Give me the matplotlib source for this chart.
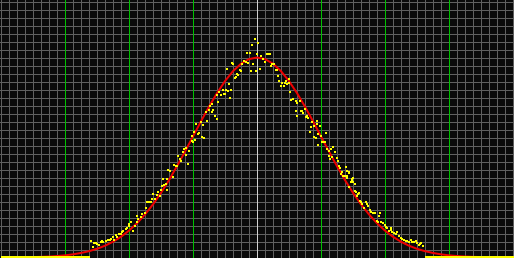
import matplotlib
matplotlib.use('Agg')
import matplotlib.pyplot as plt

# Hardcodes: values (x = bin, y = count)
red_x = [32, 40, 48, 56, 64, 72, 80, 88, 96, 104, 112, 120, 128, 136, 144, 152, 160, 168, 176, 184, 192, 200, 208, 216, 224, 232, 240, 248,
         256, 264, 272, 280, 288, 296, 304, 312, 320, 328, 336, 344, 352, 360, 368, 376, 384, 392, 400, 408, 416, 424, 432, 440, 448, 456, 464, 472, 480]
red_y = [0.4, 0.7, 1.0, 1.5, 2.2, 3.2, 4.6, 6.4, 8.8, 11.9, 15.9, 20.9, 27.1, 34.5, 43.3, 53.4, 64.9, 77.7, 91.6, 106.2, 121.3, 136.4, 151.0, 164.5, 176.5, 186.4, 193.8, 198.4,
         200.0, 198.4, 193.8, 186.4, 176.5, 164.5, 151.0, 136.4, 121.3, 106.2, 91.6, 77.7, 64.9, 53.4, 43.3, 34.5, 27.1, 20.9, 15.9, 11.9, 8.8, 6.4, 4.6, 3.2, 2.2, 1.5, 1.0, 0.7, 0.4]

yellow_x = [90, 92, 93, 95, 96, 98, 100, 101, 102, 105, 107, 109, 110, 112, 113, 115, 116, 118, 120, 121, 122, 125, 126, 128, 128, 130,
            132, 134, 136, 136, 137, 140, 141, 144, 145, 146, 148, 150, 151, 152, 154, 156, 157, 159, 160, 161, 162, 163, 165, 166, 166, 167,
            169, 172, 173, 175, 176, 177, 179, 180, 182, 183, 185, 185, 187, 188, 191, 191, 192, 193, 194, 195, 197, 198, 200, 201, 202, 203,
            205, 206, 208, 209, 211, 211, 212, 214, 216, 216, 217, 218, 220, 222, 223, 224, 225, 227, 229, 230, 226, 228, 231, 232, 234, 235,
            236, 237, 239, 240, 241, 243, 245, 246, 247, 249, 250, 251, 252, 254, 255, 256, 257, 259, 260, 262, 264, 266, 267, 269, 270, 271,
            273, 275, 276, 277, 278, 280, 281, 283, 284, 285, 286, 288, 288, 289, 290, 292, 295, 296, 299, 300, 301, 295, 296, 302, 304, 305,
            306, 307, 309, 310, 311, 313, 313, 315, 316, 316, 317, 319, 320, 317, 321, 322, 324, 325, 326, 328, 328, 329, 330, 331, 332, 334,
            336, 337, 338, 339, 340, 341, 342, 344, 345, 346, 348, 350, 351, 352, 354, 346, 348, 346, 351, 352, 354, 348, 355, 357, 358, 356,
            359, 360, 361, 363, 365, 366, 367, 369, 370, 372, 374, 376, 377, 378, 379, 380, 382, 384, 385, 386, 388, 390, 390, 391, 393, 395,
            396, 398, 400, 401, 403, 405, 406, 408, 410, 411, 413, 415, 416, 418, 419, 420, 422]
yellow_y = [17, 11, 15, 15, 14, 13, 16, 17, 16, 17, 18, 18, 19, 21, 18, 23, 21, 24, 24, 26, 27, 29, 30, 32, 34, 36,
            27, 32, 36, 42, 39, 41, 44, 45, 50, 56, 56, 56, 59, 64, 59, 63, 66, 62, 68, 72, 79, 73, 74, 79, 68, 88,
            87, 81, 93, 92, 92, 102, 99, 97, 106, 109, 110, 103, 94, 107, 117, 122, 116, 126, 118, 134, 124, 125, 136, 121, 133, 120,
            146, 137, 148, 152, 154, 146, 148, 142, 139, 163, 156, 166, 163, 168, 164, 164, 168, 167, 160, 168, 189, 174, 195, 194, 180, 181,
            184, 183, 188, 187, 194, 197, 196, 205, 195, 205, 187, 213, 194, 219, 187, 204, 215, 189, 202, 199, 196, 204, 204, 204, 192, 194,
            194, 188, 188, 182, 177, 172, 175, 172, 175, 177, 174, 179, 175, 166, 158, 159, 157, 155, 157, 147, 147, 147, 142, 145, 149, 141,
            142, 140, 126, 131, 136, 132, 121, 120, 137, 134, 124, 132, 122, 113, 116, 116, 116, 125, 109, 107, 102, 99, 109, 101, 111, 106,
            100, 97, 92, 90, 84, 86, 82, 82, 91, 80, 86, 76, 78, 80, 67, 87, 85, 82, 79, 76, 74, 71, 66, 64, 65, 62,
            57, 56, 54, 50, 56, 54, 52, 48, 46, 45, 45, 37, 36, 42, 45, 36, 35, 33, 31, 30, 27, 28, 30, 26, 25, 24,
            26, 22, 20, 19, 18, 17, 17, 16, 18, 16, 16, 17, 15, 13, 14, 15, 12]

# bins with zero count (drawn along the baseline)
empty_start = [0, 424]
empty_end = [89, 513]

N_BINS = 512
MAX_Y = 256

fig = plt.figure(figsize=(5.14, 2.58), dpi=100)
fig.patch.set_facecolor('#0a0a0a')
ax = fig.add_axes([0, 0, 1, 1])
ax.set_facecolor('#0a0a0a')
# half pixel offsets so grid lines land on pixel centres
ax.set_xlim(-1.5, N_BINS + 1.5)
ax.set_ylim(-0.5, MAX_Y + 1.5)
ax.axis('off')

px = 72.0 / 100  # one pixel in points

# grid: grey every 8, green every 64, light line in the middle
for gy in range(0, MAX_Y + 1, 8):
    ax.plot([-2, N_BINS + 2], [gy, gy], color='#606060', lw=px, zorder=1)
for gx in range(0, N_BINS + 1, 8):
    if gx == N_BINS // 2:
        col, z = '#d0d0d0', 1.2
    elif gx % 64 == 0 and 0 < gx < N_BINS:
        col, z = '#00c000', 1.2
    else:
        col, z = '#606060', 1.1
    ax.plot([gx, gx], [-1, MAX_Y + 2], color=col, lw=px, zorder=z)

# empty bins: yellow along the bottom edge (half of it is clipped off)
for a, b in zip(empty_start, empty_end):
    ax.plot([a, b], [0, 0], color='#ffff00', lw=4 * px, solid_capstyle='butt', zorder=4)
ax.plot(red_x, red_y, color='#ee0000', lw=2 * px, zorder=2)
ax.scatter(yellow_x, yellow_y, marker='s', s=(1.5 * px) ** 2, color='#ffff00', linewidths=0, zorder=3)

plt.savefig('out.png', dpi=100, facecolor=fig.get_facecolor())
